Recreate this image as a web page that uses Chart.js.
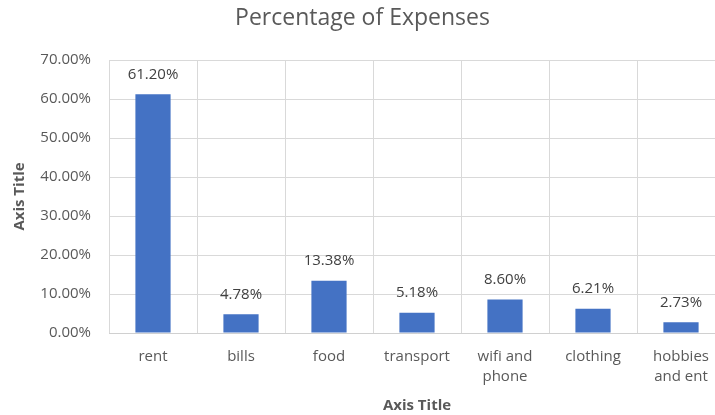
<!DOCTYPE html>
<html>
<head>
<meta charset="utf-8">
<script src="https://cdn.jsdelivr.net/npm/chart.js@4/dist/chart.umd.min.js"></script>
<style>
  html, body { margin: 0; padding: 0; background: #fff; overflow: hidden; }
  #wrap { width: 735px; height: 415px; }
</style>
</head>
<body>
<div id="wrap"><canvas id="expensesChart"></canvas></div>
<script>
const categories = ['rent', 'bills', 'food', 'transport', ['wifi and', 'phone'], 'clothing', ['hobbies', 'and ent']];
const percentages = [61.20, 4.78, 13.38, 5.18, 8.60, 6.21, 2.73];
const yTicks = [0, 10, 20, 30, 40, 50, 60, 70];

const textColor = '#595959';
const fontFamily = '"Open Sans", sans-serif';

// writes each bar's value just above it
const valueLabels = {
    id: 'valueLabels',
    afterDatasetsDraw(chart) {
        const ctx = chart.ctx;
        const meta = chart.getDatasetMeta(0);
        ctx.save();
        ctx.font = '15px ' + fontFamily;
        ctx.fillStyle = '#404040';
        ctx.textAlign = 'center';
        ctx.textBaseline = 'middle';
        meta.data.forEach((bar, i) => {
            ctx.fillText(percentages[i].toFixed(2) + '%', bar.x, bar.y - 20);
        });
        ctx.restore();
    }
};

const ctx = document.getElementById('expensesChart').getContext('2d');
const expensesChart = new Chart(ctx, {
    type: 'bar',
    data: {
        labels: categories,
        datasets: [{
            label: 'Percentage',
            data: percentages,
            backgroundColor: '#4472C4',
            borderWidth: 0,
            categoryPercentage: 1,
            barPercentage: 0.4
        }]
    },
    options: {
        responsive: true,
        maintainAspectRatio: false,
        animation: false,
        layout: { padding: { left: 0, right: 10, top: 0, bottom: 0 } },
        plugins: {
            legend: { display: false },
            tooltip: { enabled: false },
            title: {
                display: true,
                text: 'Percentage of Expenses',
                color: textColor,
                font: { family: fontFamily, size: 23, weight: 'normal' },
                padding: { top: 5, bottom: 27.4 }
            }
        },
        scales: {
            x: {
                grid: { color: '#d9d9d9', drawTicks: false, offset: true },
                border: { color: '#d0d0d0' },
                ticks: {
                    color: textColor,
                    font: { family: fontFamily, size: 15, lineHeight: 1.33 },
                    padding: 14,
                    maxRotation: 0,
                    autoSkip: false
                },
                title: {
                    display: true,
                    text: 'Axis Title',
                    color: textColor,
                    font: { family: fontFamily, size: 15, weight: 'bold' },
                    padding: { top: 4, bottom: 0 }
                },
                afterFit(scale) { scale.height = 82; }
            },
            y: {
                min: 0,
                max: 70,
                afterBuildTicks(scale) { scale.ticks = yTicks.map(v => ({ value: v })); },
                grid: { color: '#d9d9d9', drawTicks: false },
                border: { display: false },
                ticks: {
                    color: textColor,
                    font: { family: fontFamily, size: 15 },
                    padding: 18,
                    callback: v => v.toFixed(2) + '%'
                },
                title: {
                    display: true,
                    text: 'Axis Title',
                    color: textColor,
                    font: { family: fontFamily, size: 15, weight: 'bold' },
                    padding: { top: 11, bottom: 4 }
                },
                afterFit(scale) { scale.width = 109; }
            }
        }
    },
    plugins: [valueLabels]
});
</script>
</body>
</html>
